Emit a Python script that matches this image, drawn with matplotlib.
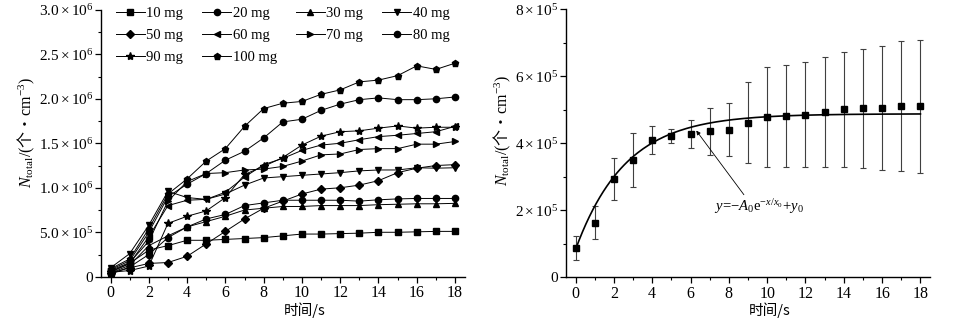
import numpy as np
import matplotlib
matplotlib.use('Agg')
import matplotlib.pyplot as plt
from matplotlib.ticker import MultipleLocator, FixedLocator

plt.rcParams['font.family'] = ['Liberation Serif', 'Noto Sans CJK SC']
plt.rcParams['mathtext.fontset'] = 'custom'
plt.rcParams['mathtext.rm'] = 'Liberation Serif'
plt.rcParams['mathtext.it'] = 'Liberation Serif:italic'
plt.rcParams['mathtext.bf'] = 'Liberation Serif:bold'

# time axis (s)
time_s = list(range(19))

# left panel, N_total in 1e6 per cm^3
labels = ['10 mg', '20 mg', '30 mg', '40 mg', '50 mg', '60 mg', '70 mg', '80 mg', '90 mg', '100 mg']
markers = ['s', 'o', '^', 'v', 'D', '<', '>', 'o', '*', 'p']
n_10 = [0.05, 0.15, 0.30, 0.35, 0.41, 0.41, 0.42, 0.43, 0.44, 0.46, 0.48, 0.48, 0.485, 0.49, 0.50, 0.50, 0.505, 0.51, 0.51]
n_20 = [0.03, 0.11, 0.25, 0.44, 0.56, 0.65, 0.70, 0.80, 0.83, 0.86, 0.86, 0.86, 0.86, 0.85, 0.865, 0.875, 0.88, 0.88, 0.88]
n_30 = [0.04, 0.13, 0.35, 0.46, 0.56, 0.62, 0.68, 0.75, 0.77, 0.79, 0.79, 0.80, 0.80, 0.80, 0.81, 0.815, 0.82, 0.82, 0.825]
n_40 = [0.10, 0.26, 0.58, 0.96, 0.89, 0.87, 0.93, 1.03, 1.11, 1.125, 1.14, 1.155, 1.17, 1.19, 1.20, 1.20, 1.225, 1.22, 1.225]
n_50 = [0.04, 0.10, 0.15, 0.16, 0.23, 0.37, 0.51, 0.65, 0.77, 0.85, 0.93, 0.985, 1.00, 1.03, 1.08, 1.17, 1.22, 1.25, 1.26]
n_60 = [0.06, 0.15, 0.45, 0.80, 0.86, 0.87, 0.95, 1.12, 1.26, 1.33, 1.42, 1.48, 1.50, 1.54, 1.575, 1.59, 1.61, 1.63, 1.69]
n_70 = [0.07, 0.16, 0.40, 0.85, 1.07, 1.16, 1.17, 1.20, 1.21, 1.24, 1.30, 1.37, 1.38, 1.43, 1.44, 1.44, 1.49, 1.49, 1.52]
n_80 = [0.08, 0.18, 0.50, 0.90, 1.04, 1.16, 1.31, 1.41, 1.56, 1.74, 1.77, 1.87, 1.94, 1.99, 2.01, 1.99, 1.99, 2.00, 2.02]
n_90 = [0.05, 0.07, 0.12, 0.60, 0.68, 0.74, 0.89, 1.15, 1.24, 1.34, 1.48, 1.58, 1.63, 1.64, 1.67, 1.695, 1.67, 1.68, 1.68]
n_100 = [0.09, 0.20, 0.54, 0.93, 1.10, 1.30, 1.44, 1.69, 1.89, 1.95, 1.97, 2.05, 2.10, 2.19, 2.21, 2.26, 2.37, 2.33, 2.40]
series = [n_10, n_20, n_30, n_40, n_50, n_60, n_70, n_80, n_90, n_100]
left_ticks = [0, 0.5e6, 1.0e6, 1.5e6, 2.0e6, 2.5e6, 3.0e6]
left_ticklabels = ['0', r'$5.0\times10^5$', r'$1.0\times10^6$', r'$1.5\times10^6$',
                   r'$2.0\times10^6$', r'$2.5\times10^6$', r'$3.0\times10^6$']

# right panel, mean and error in 1e5 per cm^3
mean_10 = [0.87, 1.63, 2.94, 3.50, 4.09, 4.22, 4.27, 4.36, 4.41, 4.62, 4.78, 4.82, 4.86, 4.93, 5.01, 5.04, 5.05, 5.11, 5.10]
err_10 = [0.35, 0.49, 0.63, 0.80, 0.42, 0.22, 0.42, 0.70, 0.80, 1.20, 1.50, 1.52, 1.58, 1.65, 1.72, 1.78, 1.86, 1.95, 1.98]
# fit y = -A0 exp(-x/x0) + y0
A0, x0, y0 = 4.05e5, 2.6, 4.88e5
right_ticks = [0, 2e5, 4e5, 6e5, 8e5]
right_ticklabels = ['0', r'$2\times10^5$', r'$4\times10^5$', r'$6\times10^5$', r'$8\times10^5$']

fig = plt.figure(figsize=(9.57, 3.26), dpi=100)
ax1 = fig.add_axes([0.1055, 0.151, 0.380, 0.819])
ax2 = fig.add_axes([0.5914, 0.1494, 0.3804, 0.822])

handles = []
for name, m, vals in zip(labels, markers, series):
    ms = 6 if m == '*' else 4.5
    h, = ax1.plot(time_s, np.array(vals) * 1e6, color='black', lw=0.7, marker=m, ms=ms, label=name)
    handles.append(h)

ax1.set_ylim(0, 3.0e6)
ax1.yaxis.set_major_locator(FixedLocator(left_ticks))
ax1.set_yticklabels(left_ticklabels)
ax1.yaxis.set_minor_locator(MultipleLocator(2.5e5))

# legend is filled column by column, so reorder to read row by row
order = [0, 4, 8, 1, 5, 9, 2, 6, 3, 7]
ax1.legend([handles[i] for i in order], [labels[i] for i in order], ncol=4, frameon=False,
           loc='upper left', bbox_to_anchor=(0.04, 1.012),
           fontsize=10.5, handlelength=2.0, handletextpad=0.1, columnspacing=1.3,
           labelspacing=0.62, borderpad=0, borderaxespad=0)

ax2.errorbar(time_s, np.array(mean_10) * 1e5, yerr=np.array(err_10) * 1e5, fmt='none',
             ecolor='0.25', elinewidth=0.8, capsize=2.2, capthick=0.8)
ax2.plot(time_s, np.array(mean_10) * 1e5, 's', color='black', ms=5)
xf = np.linspace(0, 18, 200)
ax2.plot(xf, -A0 * np.exp(-xf / x0) + y0, color='black', lw=1.2)
ax2.set_ylim(0, 8e5)
ax2.yaxis.set_major_locator(FixedLocator(right_ticks))
ax2.set_yticklabels(right_ticklabels)
ax2.yaxis.set_minor_locator(MultipleLocator(1e5))
ax2.annotate(r'$y\!=\!{-}A_0\mathrm{e}^{-x/x_0}\!+\!y_0$', xy=(6.3, 4.38e5), xytext=(7.25, 2.1e5),
             fontsize=10.5, ha='left', va='center',
             arrowprops=dict(arrowstyle='-|>', color='black', lw=0.6, mutation_scale=6,
                             shrinkA=0, shrinkB=0, relpos=(0.35, 1.0)))

ylab = r'$N_{\mathrm{total}}/($个·$\mathrm{cm}^{-3})$'
for ax, lx, ly in [(ax1, -0.176, 0.542), (ax2, -0.146, 0.55)]:
    ax.set_xlim(-0.5, 18.5)
    ax.xaxis.set_major_locator(MultipleLocator(2))
    ax.xaxis.set_minor_locator(MultipleLocator(1))
    for s in ['top', 'right']:
        ax.spines[s].set_visible(False)
    for s in ['left', 'bottom']:
        ax.spines[s].set_linewidth(1.0)
    ax.tick_params(which='major', direction='out', length=4, width=0.9)
    ax.tick_params(which='minor', direction='out', length=2.5, width=0.8)
    ax.tick_params(axis='x', labelsize=11.5, pad=2)
    ax.tick_params(axis='y', labelsize=11, pad=1.5)
    ax.set_xlabel('时间/s', fontsize=10.5, family=['Noto Sans CJK SC'])
    ax.xaxis.set_label_coords(0.56, -0.095)
    ax.set_ylabel(ylab, fontsize=11.5, family=['Noto Sans CJK SC'])
    ax.yaxis.set_label_coords(lx, ly)

fig.savefig('out.png', dpi=100)
